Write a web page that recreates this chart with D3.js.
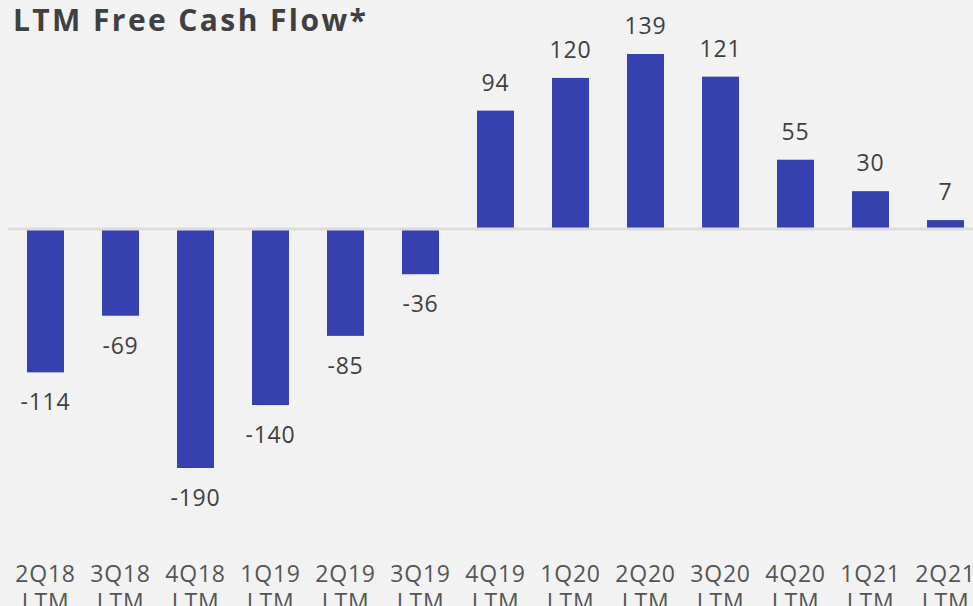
<!DOCTYPE html>
<html>
<head>
<meta charset="utf-8">
<script src="https://cdn.jsdelivr.net/npm/d3@7"></script>
<style>
  html, body { margin: 0; padding: 0; background: #f2f2f2; }
  svg { display: block; }
</style>
</head>
<body>
<script>
// Quarterly LTM free cash flow
const quarters = ["2Q18", "3Q18", "4Q18", "1Q19", "2Q19", "3Q19", "4Q19", "1Q20", "2Q20", "3Q20", "4Q20", "1Q21", "2Q21"];
const periodSuffix = "LTM";
const freeCashFlow = [-114, -69, -190, -140, -85, -36, 94, 120, 139, 121, 55, 30, 7];
const chartTitle = "LTM Free Cash Flow*";

const W = 973, H = 606;
const svg = d3.select("body").append("svg").attr("width", W).attr("height", H);
svg.append("rect").attr("width", W).attr("height", H).attr("fill", "#f2f2f2");

const x = d3.scaleBand()
  .domain(quarters)
  .range([8, 983])
  .paddingInner(0.507)
  .paddingOuter(0.2535);

const y = d3.scaleLinear()
  .domain([d3.min(freeCashFlow), d3.max(freeCashFlow)])
  .range([468, 54]);

const font = "'Open Sans', 'Liberation Sans', sans-serif";

// title
svg.append("text")
  .attr("x", 13).attr("y", 31)
  .attr("font-family", font)
  .attr("font-weight", 700)
  .attr("font-size", 30)
  .attr("letter-spacing", 2.4)
  .attr("fill", "#404040")
  .text(chartTitle);

const data = quarters.map((q, i) => ({ q, v: freeCashFlow[i] }));

// bars
svg.append("g").selectAll("rect").data(data).join("rect")
  .attr("x", d => x(d.q))
  .attr("width", x.bandwidth())
  .attr("y", d => y(Math.max(0, d.v)))
  .attr("height", d => Math.abs(y(d.v) - y(0)))
  .attr("fill", "#3641b0");

// zero baseline
svg.append("line")
  .attr("x1", 8).attr("x2", W)
  .attr("y1", y(0)).attr("y2", y(0))
  .attr("stroke", "#dcdcdc")
  .attr("stroke-width", 3);

// value labels
svg.append("g").selectAll("text").data(data).join("text")
  .attr("x", d => x(d.q) + x.bandwidth() / 2)
  .attr("y", d => d.v >= 0 ? y(d.v) - 20 : y(d.v) + 38)
  .attr("text-anchor", "middle")
  .attr("font-family", font)
  .attr("font-size", 23)
  .attr("letter-spacing", 0.8)
  .attr("fill", "#404040")
  .text(d => d.v);

// category axis: quarter on the first line, period on the second
const xAxis = svg.append("g")
  .call(d3.axisBottom(x).tickSize(0).tickPadding(0));
xAxis.select(".domain").remove();
xAxis.selectAll(".tick text").remove();
xAxis.selectAll(".tick").each(function(d) {
  const t = d3.select(this).append("text")
    .attr("text-anchor", "middle")
    .attr("font-family", font)
    .attr("font-size", 23)
    .attr("letter-spacing", 0.8)
    .attr("fill", "#555555");
  t.append("tspan").attr("x", 0).attr("y", 582).text(d);
  t.append("tspan").attr("x", 0).attr("y", 610).text(periodSuffix);
});
</script>
</body>
</html>
